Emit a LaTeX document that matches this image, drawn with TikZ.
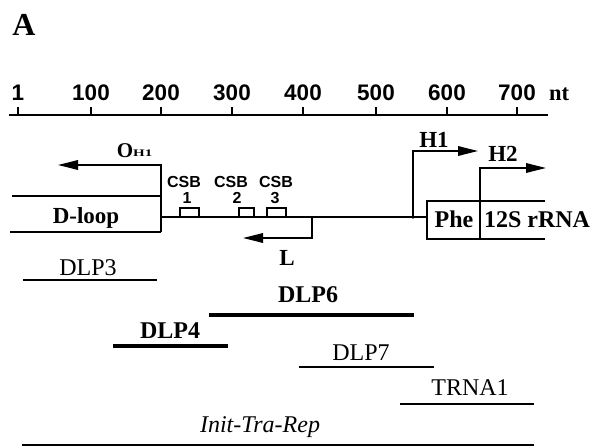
\documentclass[tikz,border=0pt]{standalone}
\usepackage{fontspec}
\usepackage{graphicx}
\setmainfont{Liberation Serif}
\newfontfamily\axfont{Liberation Sans}
\usetikzlibrary{arrows.meta}
\begin{document}
\begin{tikzpicture}[x=1pt,y=-1pt,
  lbl/.style={inner sep=0pt,anchor=base},
  bser/.style={lbl,font=\fontsize{23}{25}\selectfont\bfseries},
  rser/.style={lbl,font=\fontsize{24}{26}\selectfont},
  bbig/.style={lbl,font=\fontsize{24}{26}\selectfont\bfseries},
  axlbl/.style={lbl,font=\fontsize{22.5}{24}\selectfont\axfont\bfseries},
  csblbl/.style={lbl,font=\fontsize{16}{17}\selectfont\axfont\bfseries},
  gene/.style={line width=1.8pt},
  frag/.style={line width=1.5pt},
  fragthick/.style={line width=4.2pt},
  arr/.style={line width=1.8pt,-{Triangle[length=20pt,width=9.5pt]}},
]
\useasboundingbox (0,0) rectangle (594,447);

% panel letter
\node[lbl,font=\fontsize{32}{34}\selectfont\bfseries] (panel) at (24,35) {A};

% axis
\coordinate (axL) at (9,115);
\coordinate (axR) at (548,115);
\draw[line width=1.7pt] (axL) -- (axR);
\foreach \v/\x in {1/18,100/91,200/161,300/232,400/303,500/376,600/447,700/517}{
  \coordinate (tk\v) at (\x,115);
  \coordinate (tt\v) at (\x,107);
  \draw[line width=1.3pt] (tk\v) -- (tt\v);
  \node[axlbl] (n\v) at (\x,100) {\v};
}
\node[bser,font=\fontsize{22.5}{24}\selectfont\bfseries] (nt) at (559,100) {nt};

% D-loop region and O_H1
\coordinate (oh1top) at (161,165);
\coordinate (oh1tip) at (58,165);
\coordinate (dlTR) at (161,196);
\coordinate (dlTL) at (12,196);
\coordinate (dlBR) at (161,232);
\coordinate (dlBL) at (10,232);
\draw[arr] (dlBR) -- (oh1top) -- (oh1tip);
\draw[gene] (dlTL) -- (dlTR);
\draw[gene] (dlBL) -- (dlBR);
\node[bser] (dloop) at (86,223) {D-loop};
\node[lbl,anchor=base east,font=\fontsize{21}{23}\selectfont\bfseries] (oh) at (133.5,157) {O};
\node[lbl,anchor=base west,font=\fontsize{10}{11}\selectfont\bfseries] (ohsub) at (133,156) {\scalebox{1.5}[1]{H1}};

% main line
\coordinate (mainL) at (161,217);
\coordinate (mainR) at (427,217);
\draw[gene] (mainL) -- (mainR);

% CSB boxes
\foreach \i/\a/\b in {1/180/199,2/239/254,3/267/286}{
  \coordinate (csbA\i) at (\a,217);
  \coordinate (csbB\i) at (\b,208);
  \draw[line width=1.5pt] (csbA\i) rectangle (csbB\i);
}
\node[csblbl] (csb1) at (184,187) {CSB};
\node[csblbl] (csb2) at (231,187) {CSB};
\node[csblbl] (csb3) at (276,187) {CSB};
\node[csblbl] (csbn1) at (187,203) {1};
\node[csblbl] (csbn2) at (237,203) {2};
\node[csblbl] (csbn3) at (275,203) {3};

% L promoter
\coordinate (lbase) at (312,217);
\coordinate (lcorner) at (312,238);
\coordinate (ltip) at (243,238);
\draw[arr] (lbase) -- (lcorner) -- (ltip);
\node[bser] (L) at (287,265) {L};

% H1 promoter
\coordinate (h1base) at (413,217);
\coordinate (h1corner) at (413,151);
\coordinate (h1tip) at (478,151);
\draw[arr] (h1base) -- (h1corner) -- (h1tip);
\fill (h1base) circle (1.8);
\node[bser] (H1) at (434,147) {H1};

% Phe / 12S box
\coordinate (phTL) at (427,201);
\coordinate (phBL) at (427,239);
\coordinate (phTR) at (545,201);
\coordinate (phBR) at (545,239);
\draw[gene] (phTR) -- (phTL) -- (phBL) -- (phBR);
\coordinate (divB) at (480,239);
\coordinate (h2corner) at (480,168);
\coordinate (h2tip) at (546,168);
\draw[arr] (divB) -- (h2corner) -- (h2tip);
\node[bser] (H2) at (503,161) {H2};
\node[bbig] (phe) at (454,227) {Phe};
\node[bbig] (rrna) at (537,227) {12S rRNA};

% fragments
\coordinate (d3a) at (23,280); \coordinate (d3b) at (157,280);
\draw[frag] (d3a) -- (d3b);
\node[rser] (dlp3) at (88,275) {DLP3};

\coordinate (d6a) at (209,315); \coordinate (d6b) at (414,315);
\draw[fragthick] (d6a) -- (d6b);
\node[bbig] (dlp6) at (308,302) {DLP6};

\coordinate (d4a) at (113,346); \coordinate (d4b) at (228,346);
\draw[fragthick] (d4a) -- (d4b);
\node[bbig] (dlp4) at (170,338) {DLP4};

\coordinate (d7a) at (299,367); \coordinate (d7b) at (434,367);
\draw[frag] (d7a) -- (d7b);
\node[rser] (dlp7) at (361,360) {DLP7};

\coordinate (tra) at (400,404); \coordinate (trb) at (534,404);
\draw[frag] (tra) -- (trb);
\node[rser] (trna1) at (470,395) {TRNA1};

\coordinate (ia) at (22,445); \coordinate (ib) at (534,445);
\draw[line width=2.8pt] (ia) -- (ib);
\node[rser,font=\fontsize{24}{26}\selectfont\itshape] (itr) at (260,432) {Init-Tra-Rep};
\end{tikzpicture}
\end{document}
